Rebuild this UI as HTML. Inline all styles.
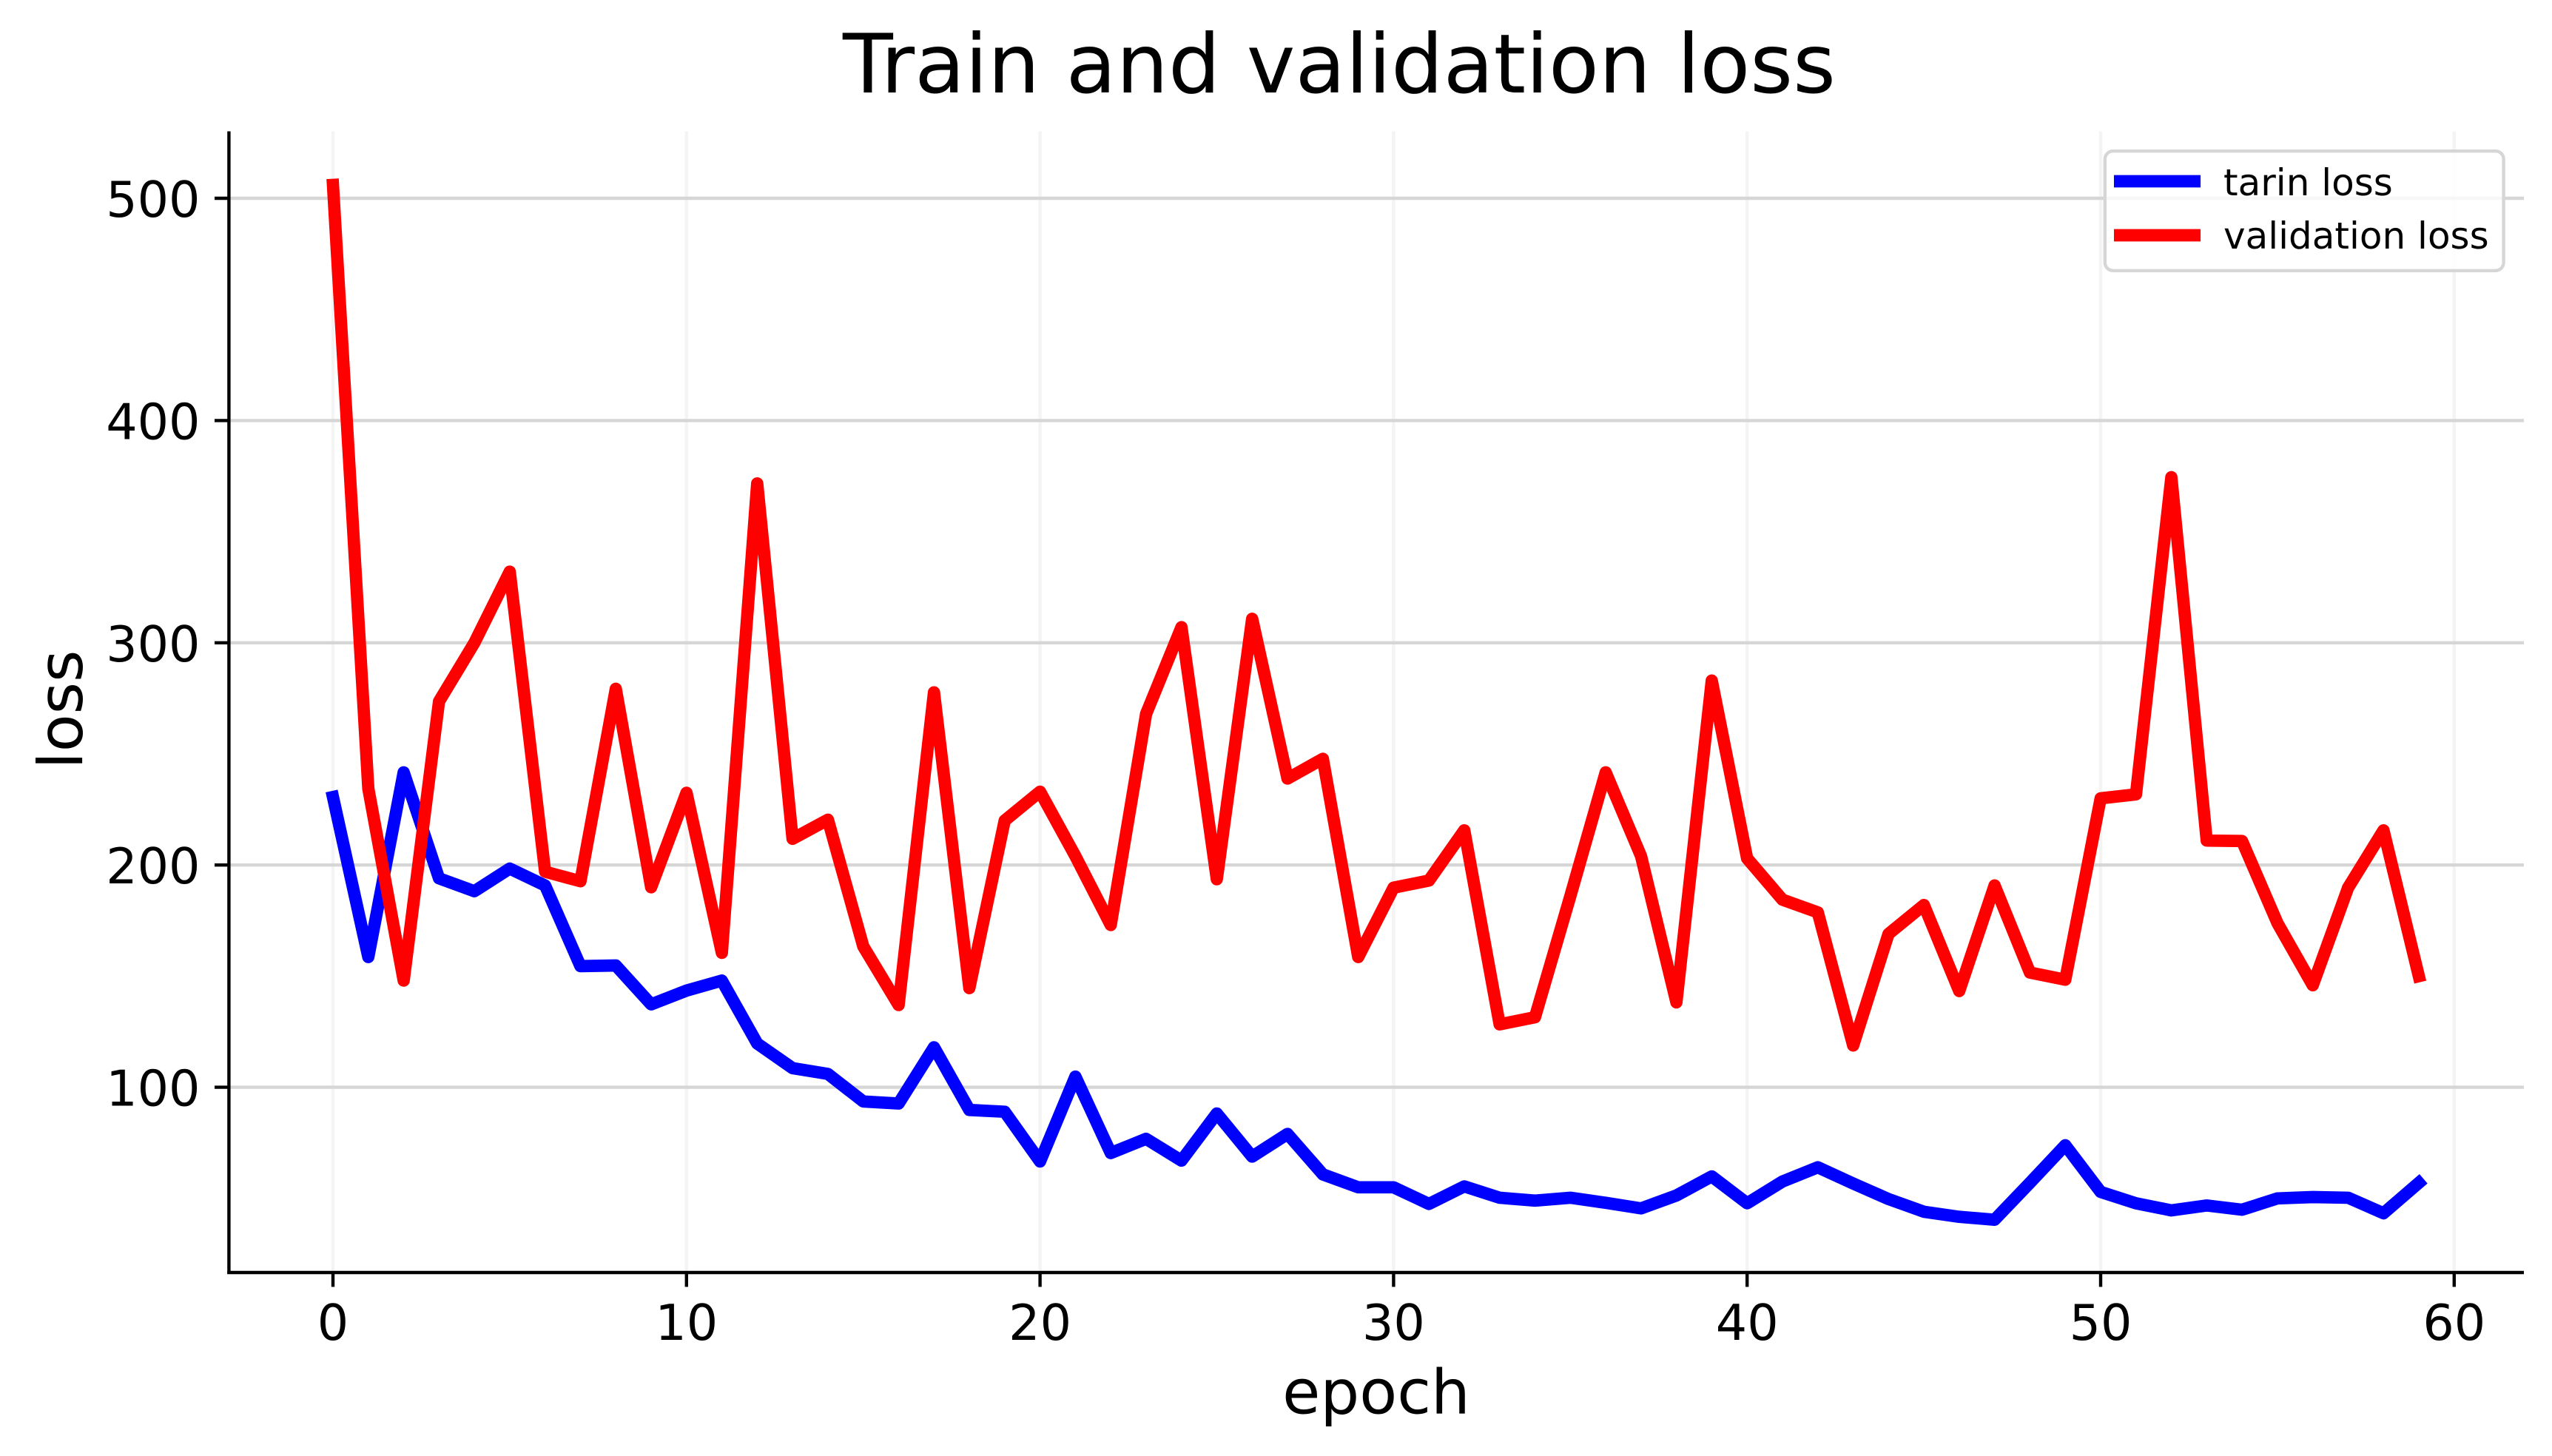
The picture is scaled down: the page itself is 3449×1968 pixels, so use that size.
<!DOCTYPE html>
<html lang="en">
<head>
<meta charset="utf-8">
<title>Train and validation loss</title>
<style>
html,body{margin:0;padding:0;background:#fff;width:3449px;height:1968px;overflow:hidden}
svg{display:block;font-family:"DejaVu Sans","Liberation Sans",sans-serif;fill:#000}
</style>
</head>
<body>
<svg id="chart" xmlns="http://www.w3.org/2000/svg" width="3449" height="1968" viewBox="0 0 3449 1968">
  <rect x="0" y="0" width="3449" height="1968" fill="#ffffff"/>
  <g id="grid"></g>
  <g id="series"></g>
  <line x1="309.4" y1="177.5" x2="309.4" y2="1722" stroke="#000" stroke-width="4.4"/>
  <line x1="307.2" y1="1720" x2="3411" y2="1720" stroke="#000" stroke-width="4.4"/>
  <g id="ticks"></g>
  <text x="1810" y="125" font-size="111" text-anchor="middle">Train and validation loss</text>
  <text x="1860" y="1910.7" font-size="83.3" text-anchor="middle">epoch</text>
  <text transform="translate(111,959) rotate(-90)" font-size="83.3" text-anchor="middle">loss</text>
  <g>
    <rect x="2844.8" y="204.2" width="538.8" height="161.6" rx="11" ry="11" fill="#ffffff" fill-opacity="0.8" stroke="#d6d6d6" stroke-width="4.4"/>
    <line x1="2865.3" y1="245" x2="2965.7" y2="245" stroke="#0000ff" stroke-width="16.67" stroke-linecap="square"/>
    <text x="3005" y="264" font-size="50">tarin loss</text>
    <line x1="2865.3" y1="318" x2="2965.7" y2="318" stroke="#ff0000" stroke-width="16.67" stroke-linecap="square"/>
    <text x="3005" y="336" font-size="50">validation loss</text>
  </g>
</svg>
<script>
const xTicks = [0, 10, 20, 30, 40, 50, 60];
const yTicks = [100, 200, 300, 400, 500];
const trainLoss = [230.6, 158.6, 241.7, 194, 188.2, 198.4, 190.8, 154.5, 154.8, 137.3, 143.5, 148, 119.7, 108.6, 106, 93.6, 92.7, 118, 89.8, 89, 66.6, 104.8, 70.4, 76.8, 67, 88.2, 68.8, 79, 60.8, 55, 55, 47.5, 55.4, 50.3, 49, 50.3, 48, 45.5, 51.3, 59.9, 47.8, 57.6, 64, 56.7, 49.7, 44, 41.7, 40.4, 57, 73.9, 52.9, 47.8, 44.6, 46.8, 44.9, 50, 50.6, 50.3, 43.3, 57];
const validationLoss = [506, 234.4, 148, 273.6, 300, 332, 197, 192.7, 279.3, 190, 232.5, 160.5, 371.7, 211.8, 220.4, 163.4, 137, 277.7, 144.6, 220, 233, 204, 173, 268, 307, 193.6, 310.8, 238.9, 247.8, 158.6, 189.8, 193, 215.6, 128.3, 131.5, 186, 241.7, 204, 138.2, 283, 203, 184.4, 178.7, 118.8, 169, 182, 143.3, 190.8, 151.6, 148.4, 230, 231.8, 374.5, 211, 210.8, 173.9, 145.9, 189.8, 215.6, 150];

const SVG_NS = 'http://www.w3.org/2000/svg';
const xScale = function (epoch) { return 450 + epoch * 47.78; };
const yScale = function (loss) { return 268 + (500 - loss) * 3.004; };

function makeLine(x1, y1, x2, y2, stroke, width) {
  const el = document.createElementNS(SVG_NS, 'line');
  el.setAttribute('x1', x1);
  el.setAttribute('y1', y1);
  el.setAttribute('x2', x2);
  el.setAttribute('y2', y2);
  el.setAttribute('stroke', stroke);
  el.setAttribute('stroke-width', width);
  return el;
}

function makeLabel(x, y, anchor, content) {
  const el = document.createElementNS(SVG_NS, 'text');
  el.setAttribute('x', x);
  el.setAttribute('y', y);
  el.setAttribute('text-anchor', anchor);
  el.setAttribute('font-size', '66.7');
  el.textContent = content;
  return el;
}

const gridGroup = document.getElementById('grid');
const tickGroup = document.getElementById('ticks');
const seriesGroup = document.getElementById('series');

xTicks.forEach(function (tick) {
  const gridLine = makeLine(xScale(tick), 177.5, xScale(tick), 1720, '#f4f4f4', 4.4);
  
  
  gridGroup.appendChild(gridLine);
  const tickMark = makeLine(xScale(tick), 1720, xScale(tick), 1739.4, '#000', 4.4);
  
  
  tickGroup.appendChild(tickMark);
  const tickLabel = makeLabel(xScale(tick), 1811, 'middle', String(tick));
  
  
  tickGroup.appendChild(tickLabel);
});

yTicks.forEach(function (tick) {
  const gridLine = makeLine(309.4, yScale(tick), 3411, yScale(tick), '#d6d6d6', 4.4);
  
  
  gridGroup.appendChild(gridLine);
  const tickMark = makeLine(290, yScale(tick), 309.4, yScale(tick), '#000', 4.4);
  
  
  tickGroup.appendChild(tickMark);
  const tickLabel = makeLabel(270.5, yScale(tick) + 25, 'end', String(tick));
  
  
  tickGroup.appendChild(tickLabel);
});

function pointsFor(values) {
  return values.map(function (value, index) {
    return xScale(index).toFixed(2) + ',' + yScale(value).toFixed(2);
  }).join(' ');
}

function makeSeries(values, color) {
  const el = document.createElementNS(SVG_NS, 'polyline');
  el.setAttribute('points', pointsFor(values));
  el.setAttribute('fill', 'none');
  el.setAttribute('stroke', color);
  el.setAttribute('stroke-width', '16.67');
  el.setAttribute('stroke-linejoin', 'round');
  el.setAttribute('stroke-linecap', 'square');
  return el;
}

const trainLine = makeSeries(trainLoss, '#0000ff');


seriesGroup.appendChild(trainLine);

const validationLine = makeSeries(validationLoss, '#ff0000');


seriesGroup.appendChild(validationLine);
</script>
</body>
</html>
